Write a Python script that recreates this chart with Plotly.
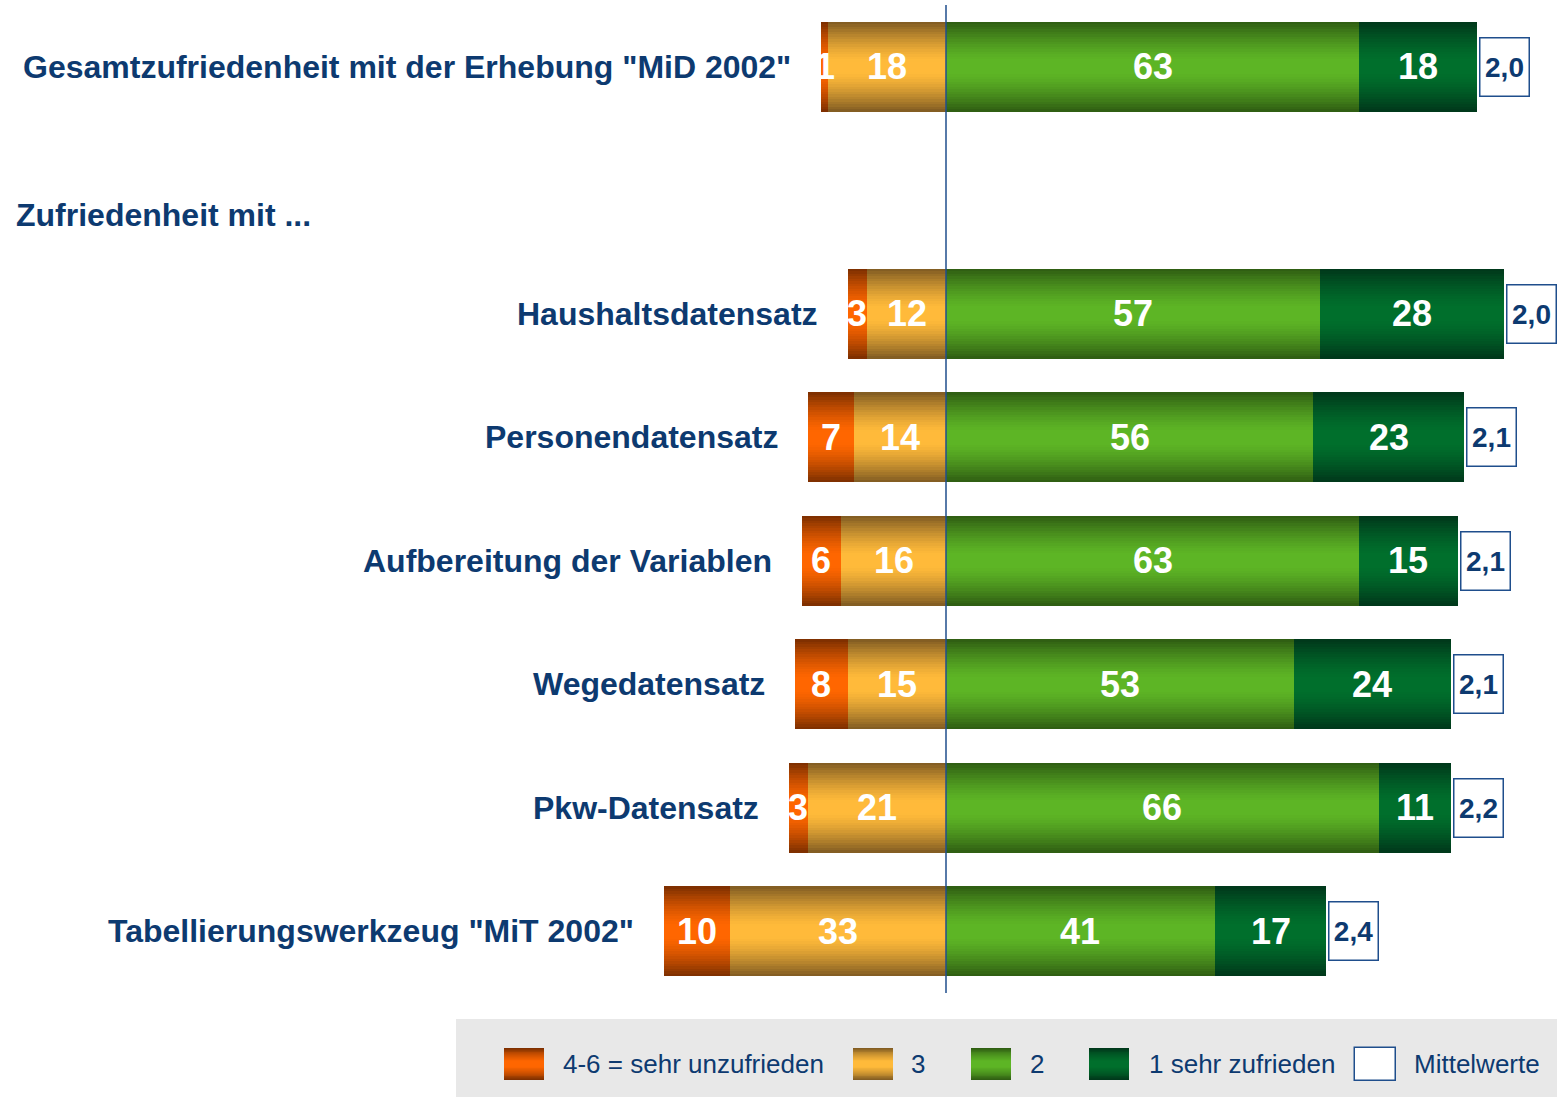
import plotly.graph_objects as go

# ---------------- data ----------------
categories = [
    'Gesamtzufriedenheit mit der Erhebung "MiD 2002"',
    "Haushaltsdatensatz",
    "Personendatensatz",
    "Aufbereitung der Variablen",
    "Wegedatensatz",
    "Pkw-Datensatz",
    'Tabellierungswerkzeug "MiT 2002"',
]
v46 = [1, 3, 7, 6, 8, 3, 10]        # 4-6 = sehr unzufrieden
v3 = [18, 12, 14, 16, 15, 21, 33]   # 3
v2 = [63, 57, 56, 63, 53, 66, 41]   # 2
v1 = [18, 28, 23, 15, 24, 11, 17]   # 1 sehr zufrieden
means = [2.0, 2.0, 2.1, 2.1, 2.1, 2.2, 2.4]

header_text = "Zufriedenheit mit ..."
legend_labels = ["4-6 = sehr unzufrieden", "3", "2", "1 sehr zufrieden", "Mittelwerte"]

# ---------------- styles ----------------
W, H = 1557, 1097
NAVY = "#0D3A70"
LINE_NAVY = "#1F4E8C"
FONT = "Liberation Sans, Arial, Helvetica, sans-serif"

# (edge colour, middle colour) of the vertical gradients
grad = {
    "46": ("#7A2E00", "#FF6600"),
    "3": ("#7E5A22", "#FFBA3A"),
    "2": ("#2E5B12", "#5DB525"),
    "1": ("#00361A", "#006F2C"),
}
seg_keys = ["46", "3", "2", "1"]

row_pos = [0, 2, 3, 4, 5, 6, 7]   # y positions (header gap after first row)
BAR_W = 0.725
N_LAYERS = 18


def hex2rgb(h):
    h = h.lstrip("#")
    return [int(h[i:i + 2], 16) for i in (0, 2, 4)]


def mix(c_mid, c_edge, t):
    a, b = hex2rgb(c_mid), hex2rgb(c_edge)
    r = [round(a[i] + (b[i] - a[i]) * t) for i in range(3)]
    return "rgb(%d,%d,%d)" % tuple(r)


def profile(d):
    x = max(0.0, (d - 0.12) / 0.88)
    return min(1.0, x) ** 1.4


fig = go.Figure()

# segments: base & length per key
bases = {
    "46": [-(a + b) for a, b in zip(v46, v3)],
    "3": [-b for b in v3],
    "2": [0 for _ in v2],
    "1": [c for c in v2],
}
lengths = {"46": v46, "3": v3, "2": v2, "1": v1}

for k in range(N_LAYERS):
    r_k = 1 - k / N_LAYERS
    r_n = 1 - (k + 1) / N_LAYERS
    t = profile((r_k + r_n) / 2)
    xs, bs, ys, cols = [], [], [], []
    for key in seg_keys:
        col = mix(grad[key][1], grad[key][0], t)
        for i in range(len(categories)):
            xs.append(lengths[key][i])
            bs.append(bases[key][i])
            ys.append(row_pos[i])
            cols.append(col)
    fig.add_trace(go.Bar(
        orientation="h", x=xs, base=bs, y=ys, width=BAR_W * r_k,
        marker=dict(color=cols, line=dict(width=0)),
        showlegend=False, hoverinfo="skip",
        xaxis="x", yaxis="y",
    ))

annotations = []

# segment value labels
for key in seg_keys:
    for i in range(len(categories)):
        annotations.append(dict(
            x=bases[key][i] + lengths[key][i] / 2, y=row_pos[i],
            xref="x", yref="y", text="<b>%d</b>" % lengths[key][i],
            showarrow=False, font=dict(family=FONT, size=36, color="white"),
            xanchor="center", yanchor="middle",
        ))

# category labels
for i, cat in enumerate(categories):
    annotations.append(dict(
        x=bases["46"][i], y=row_pos[i], xref="x", yref="y",
        text="<b>%s</b>" % cat, showarrow=False, xanchor="right", yanchor="middle",
        xshift=-28, font=dict(family=FONT, size=32, color=NAVY),
    ))

# mean boxes
for i, m in enumerate(means):
    annotations.append(dict(
        x=v2[i] + v1[i], y=row_pos[i], xref="x", yref="y",
        text="<b>%s</b>" % ("%.1f" % m).replace(".", ","),
        showarrow=False, xanchor="left", yanchor="middle", xshift=2,
        width=48, height=57, borderpad=0, bordercolor=LINE_NAVY, borderwidth=1.5,
        bgcolor="white", align="center", valign="middle",
        font=dict(family=FONT, size=28, color=NAVY),
    ))

# header text
annotations.append(dict(
    x=14 / W, y=1.2, xref="paper", yref="y", text="<b>%s</b>" % header_text,
    showarrow=False, xanchor="left", yanchor="middle",
    font=dict(family=FONT, size=32, color=NAVY),
))

# ---------------- custom legend (pixel-like axis x2/y2) ----------------
sw_left = [504, 853, 971, 1089]
txt_left = [561, 909, 1028, 1147, 1412]
box_left = 1355
SW_W, SW_H, LEG_Y = 40, 32, 45

for k in range(N_LAYERS):
    r_k = 1 - k / N_LAYERS
    r_n = 1 - (k + 1) / N_LAYERS
    t = profile((r_k + r_n) / 2)
    cols = [mix(grad[key][1], grad[key][0], t) for key in seg_keys]
    fig.add_trace(go.Bar(
        orientation="h", x=[SW_W] * 4, base=sw_left, y=[LEG_Y] * 4,
        width=SW_H * r_k, marker=dict(color=cols, line=dict(width=0)),
        showlegend=False, hoverinfo="skip", xaxis="x2", yaxis="y2",
    ))

fig.add_trace(go.Bar(
    orientation="h", x=[41], base=[box_left], y=[LEG_Y], width=33,
    marker=dict(color="white", line=dict(color=LINE_NAVY, width=1.5)),
    showlegend=False, hoverinfo="skip", xaxis="x2", yaxis="y2",
))

for lab, xl in zip(legend_labels, txt_left):
    annotations.append(dict(
        x=xl, y=LEG_Y, xref="x2", yref="y2", text=lab, showarrow=False,
        xanchor="left", yanchor="middle",
        font=dict(family=FONT, size=26, color=NAVY),
    ))

PAPER_H = H - 5
fig.update_layout(
    width=W, height=H,
    margin=dict(l=0, r=0, t=5, b=0),
    paper_bgcolor="white", plot_bgcolor="rgba(0,0,0,0)",
    barmode="overlay", bargap=0,
    showlegend=False,
    xaxis=dict(domain=[0, 1], range=[-946 / 6.56, (W - 946) / 6.56], visible=False,
               fixedrange=True, anchor="y"),
    yaxis=dict(domain=[104 / PAPER_H, 1], range=[7.5, -0.5], visible=False,
               fixedrange=True, anchor="x"),
    xaxis2=dict(domain=[0, 1], range=[0, W], visible=False, anchor="y2"),
    yaxis2=dict(domain=[0, 78 / PAPER_H], range=[78, 0], visible=False, anchor="x2"),
    annotations=annotations,
    shapes=[
        dict(type="rect", xref="x2", yref="y2", x0=456, x1=W, y0=0, y1=78,
             fillcolor="#E8E8E8", line=dict(width=0), layer="below"),
        dict(type="line", xref="x", yref="y domain", x0=0, x1=0, y0=0, y1=1,
             line=dict(color=LINE_NAVY, width=1.5), layer="above"),
    ],
)

fig.write_html(
    "out.html",
    config={"displayModeBar": False},
    post_script="document.body.style.margin='0';document.body.style.overflow='hidden';",
)
